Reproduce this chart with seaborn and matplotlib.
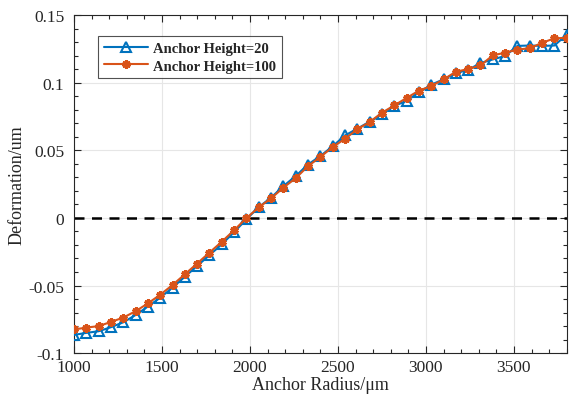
import numpy as np
import pandas as pd
import matplotlib
matplotlib.use("Agg")
import matplotlib.pyplot as plt
import seaborn as sns
from matplotlib.ticker import MultipleLocator, FuncFormatter

# anchor radius (um), 41 samples
radius = list(range(1000, 3801, 70))

h20 = [-0.0865, -0.0850, -0.0838, -0.0808, -0.0772, -0.0718, -0.0655, -0.0590, -0.0515, -0.0435,
       -0.0355, -0.0275, -0.0195, -0.0105, -0.0010, 0.0080, 0.0150, 0.0235, 0.0310, 0.0395,
       0.0458, 0.0530, 0.0610, 0.0660, 0.0712, 0.0765, 0.0828, 0.0866, 0.0928, 0.0985,
       0.1025, 0.1070, 0.1095, 0.1145, 0.1172, 0.1198, 0.1272, 0.1275, 0.1272, 0.1275, 0.1356]

h100 = [-0.0825, -0.0811, -0.0800, -0.0769, -0.0737, -0.0690, -0.0632, -0.0568, -0.0496, -0.0417,
        -0.0337, -0.0256, -0.0176, -0.0091, -0.0001, 0.0078, 0.0145, 0.0224, 0.0294, 0.0383,
        0.0451, 0.0524, 0.0585, 0.0656, 0.0709, 0.0778, 0.0832, 0.0887, 0.0941, 0.0975,
        0.1024, 0.1081, 0.1101, 0.1128, 0.1202, 0.1222, 0.1245, 0.1255, 0.1295, 0.1328, 0.1332]

labels = ["Anchor Height=20", "Anchor Height=100"]

sns.set_style("ticks")
plt.rcParams['font.family'] = ['Liberation Serif', 'DejaVu Serif']
plt.rcParams['axes.unicode_minus'] = False
plt.rcParams['xtick.direction'] = 'in'
plt.rcParams['ytick.direction'] = 'in'

fig = plt.figure(figsize=(5.69, 4.02), dpi=100)
ax = fig.add_axes([0.130, 0.119, 0.866, 0.841])

df = pd.DataFrame({"radius": radius, "h20": h20, "h100": h100})

ax.axhline(0, color='black', linestyle=(0, (4, 3)), linewidth=1.8, zorder=1)

sns.lineplot(data=df, x="radius", y="h20", ax=ax, color='#0072BD', linewidth=1.5,
             marker='^', markersize=6.5, markerfacecolor='none', markeredgecolor='#0072BD',
             markeredgewidth=1.5, label=labels[0], zorder=3)
sns.lineplot(data=df, x="radius", y="h100", ax=ax, color='#D95319', linewidth=1.5,
             marker=(6, 2, 0), markersize=6, markeredgecolor='#D95319',
             markeredgewidth=2.2, label=labels[1], zorder=4)

ax.set_xlim(1000, 3800)
ax.set_ylim(-0.1, 0.15)
ax.xaxis.set_major_locator(MultipleLocator(500))
ax.xaxis.set_minor_locator(MultipleLocator(100))
ax.yaxis.set_major_locator(MultipleLocator(0.05))
ax.yaxis.set_minor_locator(MultipleLocator(0.01))
ax.yaxis.set_major_formatter(FuncFormatter(lambda v, p: "%g" % round(v, 4)))
ax.tick_params(which='both', top=True, right=True, labelsize=12.5, width=0.8, color='#262626')
ax.tick_params(which='major', length=5)
ax.tick_params(which='minor', length=3)
ax.tick_params(axis='y', which='major', pad=7)
ax.tick_params(axis='x', which='major', pad=4)
ax.grid(True, which='major', color='#e6e6e6', linewidth=0.8)
ax.set_axisbelow(True)
for s in ax.spines.values():
    s.set_linewidth(0.8)
    s.set_color('#262626')

ax.set_xlabel("Anchor Radius/μm", fontsize=13, labelpad=1)
ax.set_ylabel("Deformation/um", fontsize=13, labelpad=2)

leg = ax.legend(loc='upper left', bbox_to_anchor=(0.034, 0.96), fancybox=False,
                frameon=True, edgecolor='#262626', prop={'weight': 'bold', 'size': 10.5},
                handlelength=3.0, borderpad=0.4, labelspacing=0.3, handletextpad=0.4)
leg.get_frame().set_linewidth(0.8)

fig.savefig("out.png", dpi=100)
